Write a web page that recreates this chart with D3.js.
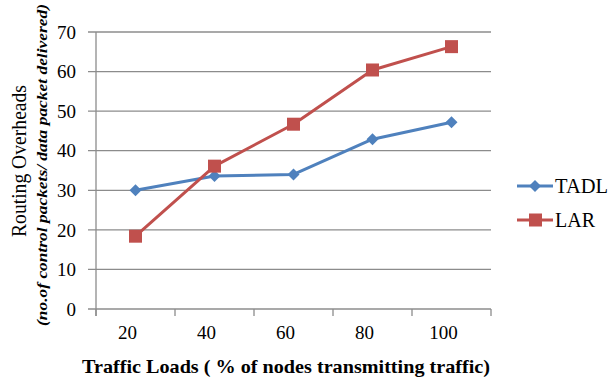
<!DOCTYPE html>
<html><head><meta charset="utf-8">
<script src="https://cdn.jsdelivr.net/npm/d3@7"></script>
<style>body{margin:0;background:#fff} svg text{font-family:"Liberation Serif","Times New Roman",Tinos,serif;}</style>
</head><body>
<svg id="c" width="611" height="380"></svg>
<script>
const categories = ["20","40","60","80","100"];
const tadl = [30.0, 33.6, 34.0, 42.9, 47.2];
const lar = [18.4, 36.1, 46.7, 60.4, 66.3];
const yTicks = [0,10,20,30,40,50,60,70];
const seriesNames = ["TADL","LAR"];

const svg = d3.select("#c");
const L = 96, R = 491, T = 32, B = 309;
const x = d3.scaleBand().domain(categories).range([L, R]);
const y = d3.scaleLinear().domain([0,70]).range([B, T]);
const gridCol = "#8c8c8c";

// gridlines
svg.append("g").selectAll("line").data(yTicks).join("line")
  .attr("x1", L - 8).attr("x2", R).attr("y1", d => y(d)).attr("y2", d => y(d))
  .attr("stroke", gridCol).attr("stroke-width", 1.3);
// y axis line
svg.append("line").attr("x1", L).attr("x2", L).attr("y1", T).attr("y2", B + 7)
  .attr("stroke", gridCol).attr("stroke-width", 1.3);
// x axis ticks
const xt = categories.map(c => x(c)).concat([R]);
svg.append("g").selectAll("line").data(xt).join("line")
  .attr("x1", d => d).attr("x2", d => d).attr("y1", B).attr("y2", B + 7)
  .attr("stroke", gridCol).attr("stroke-width", 1.3);

// y tick labels
svg.append("g").selectAll("text").data(yTicks).join("text")
  .attr("x", 76).attr("y", d => y(d)).attr("dy", "0.35em")
  .attr("text-anchor", "end").style("font-size", "19px")
  .attr("fill", "#000").text(d => d);
// x tick labels
svg.append("g").selectAll("text").data(categories).join("text")
  .attr("x", d => x(d) + x.bandwidth()/2 - 8).attr("y", 332).attr("dy", "0.35em")
  .attr("text-anchor", "middle").style("font-size", "19px")
  .attr("fill", "#000").text(d => d);

// x title
svg.append("text").attr("x", 82).attr("y", 373)
  .attr("textLength", 408).attr("lengthAdjust", "spacingAndGlyphs")
  .style("font-size", "19px").style("font-weight", "bold").attr("fill", "#000")
  .text("Traffic  Loads ( % of nodes transmitting traffic)");

// y titles
svg.append("text").attr("transform", "translate(26,161) rotate(-90)")
  .attr("text-anchor", "middle").style("font-size", "20px")
  .attr("textLength", 152).attr("lengthAdjust", "spacingAndGlyphs")
  .attr("fill", "#000").text("Routing  Overheads");
svg.append("text").attr("transform", "translate(47,165) rotate(-90)")
  .attr("text-anchor", "middle").style("font-size", "15px")
  .attr("textLength", 322).attr("lengthAdjust", "spacingAndGlyphs")
  .style("font-weight", "bold").style("font-style", "italic")
  .attr("fill", "#000").text("(no.of control packets/ data packet delivered)");

const cx = d => x(d) + x.bandwidth()/2;
const line = d3.line().x((d,i) => cx(categories[i])).y(d => y(d));
const colors = ["#4f81bd", "#c0504d"];
const data = [tadl, lar];

data.forEach((vals, k) => {
  svg.append("path").datum(vals).attr("d", line).attr("fill", "none")
    .attr("stroke", colors[k]).attr("stroke-width", 3).attr("stroke-linejoin", "round");
});
// markers
const diamond = (g, px, py, s) => g.append("path")
  .attr("d", `M${px},${py-s}L${px+s},${py}L${px},${py+s}L${px-s},${py}Z`).attr("fill", colors[0]);
tadl.forEach((v,i) => diamond(svg, cx(categories[i]), y(v), 6));
svg.append("g").selectAll("rect").data(lar).join("rect")
  .attr("x", (d,i) => cx(categories[i]) - 6.5).attr("y", d => y(d) - 6.5)
  .attr("width", 13).attr("height", 13).attr("fill", colors[1]);

// legend
const ly = [186, 220];
const lw = [53, 40];
seriesNames.forEach((n, k) => {
  svg.append("line").attr("x1", 517).attr("x2", 553).attr("y1", ly[k]).attr("y2", ly[k])
    .attr("stroke", colors[k]).attr("stroke-width", 3);
  if (k === 0) diamond(svg, 535, ly[k], 6);
  else svg.append("rect").attr("x", 529).attr("y", ly[k]-6.5).attr("width", 13).attr("height", 13).attr("fill", colors[1]);
  svg.append("text").attr("x", 555).attr("y", ly[k]).attr("dy", "0.35em")
    .attr("textLength", lw[k]).attr("lengthAdjust", "spacingAndGlyphs")
    .style("font-size", "20px").attr("fill", "#000").text(n);
});
</script>
</body></html>
